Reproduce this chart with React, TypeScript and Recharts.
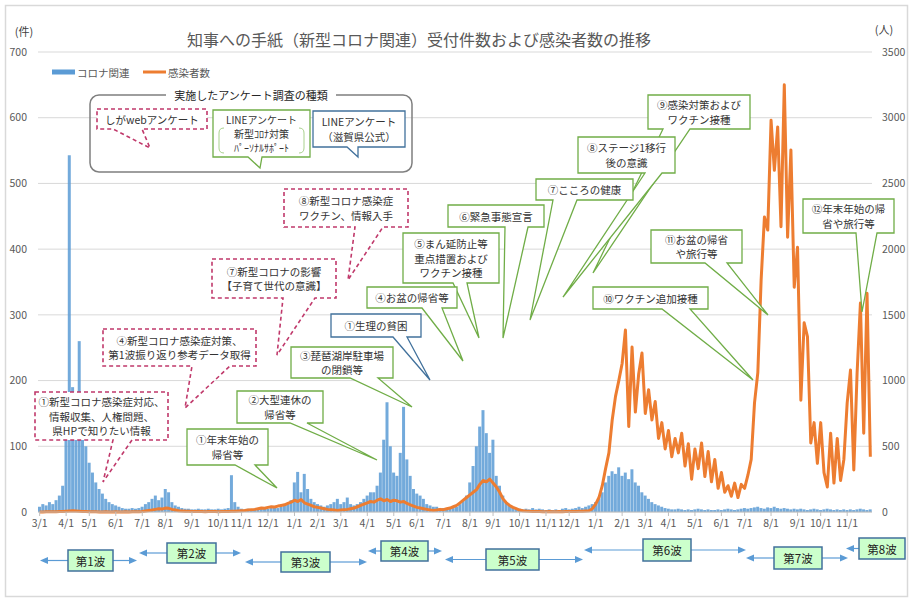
import React from 'react';
import { ComposedChart, Bar, Line, XAxis, YAxis, CartesianGrid } from 'recharts';

// ---- data (one sample every 4 days from 2020-03-01) ----
const STEP_DAYS = 4;

// 知事への手紙（コロナ関連）受付件数
const letters = [
  8, 12, 10, 15, 12, 18, 25, 40, 110, 543,
  190, 140, 260, 130, 100, 75, 60, 45, 35, 28,
  20, 15, 12, 10, 8, 6, 5, 5, 6, 5,
  6, 8, 12, 15, 20, 25, 18, 22, 35, 30,
  15, 10, 8, 6, 5, 5, 4, 4, 5, 4,
  4, 5, 4, 4, 5, 4, 5, 6, 56, 15,
  8, 5, 4, 5, 4, 5, 6, 5, 6, 5,
  6, 8, 6, 8, 10, 12, 18, 45, 61, 30,
  58, 35, 20, 15, 12, 10, 8, 10, 12, 15,
  20, 12, 15, 22, 12, 10, 12, 15, 20, 25,
  30, 30, 40, 60, 110, 167, 100, 60, 55, 90,
  160, 80, 55, 35, 28, 25, 20, 12, 10, 8,
  8, 6, 6, 5, 6, 6, 8, 12, 18, 25,
  45, 70, 100, 130, 155, 120, 90, 110, 55, 40,
  25, 15, 10, 8, 6, 5, 4, 5, 4, 6,
  4, 5, 4, 3, 4, 3, 4, 3, 5, 6,
  4, 5, 6, 8, 6, 8, 10, 12, 15, 20,
  30, 45, 55, 62, 58, 68, 55, 60, 50, 65,
  45, 40, 30, 25, 20, 15, 12, 10, 8, 6,
  5, 4, 4, 5, 4, 3, 4, 3, 4, 5,
  4, 3, 4, 3, 3, 4, 3, 4, 5, 4,
  3, 4, 5, 6, 5, 6, 7, 8, 6, 5,
  7, 6, 8, 6, 5, 6, 5, 4, 5, 4,
  5, 4, 3, 4, 5, 4, 3, 4, 5, 4,
  3, 4, 3, 4, 3, 4, 3, 4, 5, 4,
  3, 4,
];

// 感染者数
const cases = [
  0, 0, 1, 1, 2, 2, 3, 4, 6, 8,
  10, 8, 6, 4, 3, 2, 1, 1, 0, 0,
  1, 0, 0, 1, 0, 0, 1, 0, 1, 1,
  2, 4, 8, 12, 15, 20, 25, 22, 30, 28,
  20, 15, 10, 8, 6, 5, 4, 3, 4, 3,
  2, 3, 4, 3, 2, 3, 4, 3, 5, 6,
  8, 10, 12, 15, 18, 20, 25, 30, 28, 35,
  40, 38, 45, 50, 55, 65, 75, 90, 80, 95,
  70, 60, 50, 40, 35, 30, 25, 20, 18, 15,
  12, 15, 18, 20, 25, 30, 40, 50, 60, 70,
  80, 75, 90, 100, 85, 95, 80, 90, 85, 75,
  80, 65, 55, 45, 35, 30, 25, 20, 15, 12,
  15, 20, 18, 25, 30, 40, 50, 70, 90, 110,
  130, 150, 170, 210, 240, 230, 250, 220, 190, 150,
  100, 70, 50, 35, 25, 15, 10, 7, 5, 4,
  3, 3, 2, 2, 3, 2, 2, 3, 2, 3,
  4, 3, 4, 5, 5, 8, 10, 25, 60, 110,
  200, 330, 450, 700, 880, 1000, 1130, 1385, 650, 1255,
  760, 1050, 1210, 750, 930, 700, 840, 560, 680, 480,
  620, 420, 560, 450, 600, 350, 520, 250, 480, 330,
  525, 270, 460, 230, 400, 180, 300, 150, 200, 120,
  220, 110, 210, 180, 280, 400, 830, 1060, 1765, 2245,
  2145, 2980, 2600, 2930, 2170, 3250, 2090, 2755, 1710, 2015,
  850, 1440, 1335, 525, 680, 370, 680, 300, 190, 600,
  220, 560, 240, 400, 830, 1080, 320, 1060, 1590, 600,
  1665, 420,
];

const monthStartDays = [0, 31, 61, 92, 122, 153, 184, 214, 245, 275, 306, 337, 365, 396, 426, 457, 487, 518, 549, 579, 610, 640, 671, 702, 730, 761, 791, 822, 852, 883, 914, 944, 975];
const monthLabels = ['3/1', '4/1', '5/1', '6/1', '7/1', '8/1', '9/1', '10/1', '11/1', '12/1', '1/1', '2/1', '3/1', '4/1', '5/1', '6/1', '7/1', '8/1', '9/1', '10/1', '11/1', '12/1', '1/1', '2/1', '3/1', '4/1', '5/1', '6/1', '7/1', '8/1', '9/1', '10/1', '11/1'];
const leftTicks = [0, 100, 200, 300, 400, 500, 600, 700];
const rightTicks = [0, 500, 1000, 1500, 2000, 2500, 3000, 3500];

const seriesNames = { letters: 'コロナ関連', cases: '感染者数' };
const title = '知事への手紙（新型コロナ関連）受付件数および感染者数の推移';

const data = letters.map((v, i) => ({ d: i * STEP_DAYS, letters: v, cases: cases[i] }));
const tickDays = monthStartDays.map((d) => Math.round(d / STEP_DAYS) * STEP_DAYS);
const tickLabelMap = new Map(tickDays.map((t, i) => [t, monthLabels[i]]));

// ---- annotations (layout) ----
const FONT = "'Noto Sans CJK JP', 'Noto Sans', sans-serif";
const BLUE = '#5B9BD5';
const ORANGE = '#ED7D31';
const GREEN = '#70AD47';
const STEEL = '#41719C';
const CRIMSON = '#C0396B';

type CalloutDef = { x: number; y: number; w: number; h: number; b: [number, number]; tip: [number, number]; kind: 'dash' | 'green' | 'blue'; lines: string[]; fs?: number; lh?: number };

const callouts: CalloutDef[] = [
  { x: 97, y: 109, w: 110, h: 20, b: [113, 142], tip: [150, 148], kind: 'dash', lines: ['しがwebアンケート'] },
  { x: 213, y: 110, w: 97, h: 47, b: [248, 262], tip: [260, 168], kind: 'green', lines: ['LINEアンケート', '新型ｺﾛﾅ対策', 'ﾊﾟｰｿﾅﾙｻﾎﾟｰﾄ'], fs: 10, lh: 14 },
  { x: 313, y: 111, w: 92, h: 36, b: [347, 358], tip: [358, 157], kind: 'blue', lines: ['LINEアンケート', '（滋賀県公式）'] },
  { x: 648, y: 95, w: 102, h: 34, b: [663, 690], tip: [593, 273], kind: 'green', lines: ['⑨感染対策および', 'ワクチン接種'] },
  { x: 578, y: 137, w: 97, h: 36, b: [645, 662], tip: [563, 297], kind: 'green', lines: ['⑧ステージ1移行', '後の意識'] },
  { x: 536, y: 179, w: 97, h: 21, b: [553, 577], tip: [530, 320], kind: 'green', lines: ['⑦こころの健康'] },
  { x: 448, y: 205, w: 96, h: 22, b: [505, 528], tip: [503, 338], kind: 'green', lines: ['⑥緊急事態宣言'] },
  { x: 403, y: 233, w: 96, h: 50, b: [453, 467], tip: [479, 338], kind: 'green', lines: ['⑤まん延防止等', '重点措置および', 'ワクチン接種'] },
  { x: 367, y: 287, w: 90, h: 21, b: [422, 442], tip: [463, 361], kind: 'green', lines: ['④お盆の帰省等'] },
  { x: 331, y: 314, w: 90, h: 23, b: [393, 407], tip: [430, 380], kind: 'blue', lines: ['①生理の貧困'] },
  { x: 291, y: 347, w: 102, h: 31, b: [350, 378], tip: [412, 407], kind: 'green', lines: ['③琵琶湖岸駐車場', 'の閉鎖等'] },
  { x: 237, y: 391, w: 86, h: 32, b: [290, 307], tip: [377, 460], kind: 'green', lines: ['②大型連休の', '帰省等'] },
  { x: 187, y: 429, w: 81, h: 36, b: [235, 255], tip: [277, 488], kind: 'green', lines: ['①年末年始の', '帰省等'] },
  { x: 284, y: 189, w: 124, h: 38, b: [355, 383], tip: [348, 280], kind: 'dash', lines: ['⑧新型コロナ感染症', 'ワクチン、情報入手'] },
  { x: 212, y: 259, w: 124, h: 39, b: [283, 315], tip: [277, 355], kind: 'dash', lines: ['⑦新型コロナの影響', '【子育て世代の意識】'] },
  { x: 103, y: 329, w: 153, h: 37, b: [192, 230], tip: [185, 408], kind: 'dash', lines: ['④新型コロナ感染症対策、', '第1波振り返り参考データ取得'] },
  { x: 35, y: 392, w: 133, h: 48, b: [113, 132], tip: [103, 482], kind: 'dash', lines: ['①新型コロナ感染症対応、', '情報収集、人権問題、', '県HPで知りたい情報'] },
  { x: 593, y: 287, w: 115, h: 22, b: [662, 690], tip: [753, 380], kind: 'green', lines: ['⑩ワクチン追加接種'] },
  { x: 651, y: 230, w: 91, h: 33, b: [705, 727], tip: [768, 315], kind: 'green', lines: ['⑪お盆の帰省', 'や旅行等'] },
  { x: 803, y: 199, w: 91, h: 34, b: [856, 877], tip: [862, 312], kind: 'green', lines: ['⑫年末年始の帰', '省や旅行等'] },
];

type WaveDef = { label: string; x: number; y: number; w: number; h: number; left: number | null; right: number | null };
const waves: WaveDef[] = [
  { label: '第1波', x: 68, y: 550, w: 45, h: 21, left: 40, right: 137 },
  { label: '第2波', x: 167, y: 543, w: 49, h: 20, left: 139, right: 241 },
  { label: '第3波', x: 281, y: 552, w: 49, h: 20, left: 245, right: 367 },
  { label: '第4波', x: 381, y: 541, w: 47, h: 20, left: 368, right: 442 },
  { label: '第5波', x: 486, y: 549, w: 53, h: 21, left: 445, right: 583 },
  { label: '第6波', x: 643, y: 539, w: 48, h: 22, left: 584, right: 746 },
  { label: '第7波', x: 774, y: 547, w: 48, h: 22, left: 746, right: 848 },
  { label: '第8波', x: 859, y: 538, w: 46, h: 21, left: 846, right: null },
];

function Callout({ c }: { c: CalloutDef }) {
  const { x, y, w, h, b, tip, kind, lines } = c;
  const fs = c.fs ?? 10.5;
  const lh = c.lh ?? 14.5;
  const color = kind === 'dash' ? CRIMSON : kind === 'blue' ? STEEL : GREEN;
  const path = `M${x},${y}H${x + w}V${y + h}H${b[1]}L${tip[0]},${tip[1]}L${b[0]},${y + h}H${x}Z`;
  const n = lines.length;
  return (
    <g>
      <path d={path} fill="#fff" stroke={color} strokeWidth={kind === 'dash' ? 1.6 : 1.3} strokeDasharray={kind === 'dash' ? '4 3' : undefined} strokeLinejoin="miter" />
      {lines.map((t, i) => (
        <text key={i} x={x + w / 2} y={y + h / 2 + (i - (n - 1) / 2) * lh} textAnchor="middle" dominantBaseline="central" fontSize={fs} fill="#333">
          {t}
        </text>
      ))}
    </g>
  );
}

function Wave({ wv }: { wv: WaveDef }) {
  const cy = wv.y + wv.h / 2;
  return (
    <g>
      {wv.left !== null && (
        <g>
          <line x1={wv.left + 6} y1={cy} x2={wv.x} y2={cy} stroke={BLUE} strokeWidth={1.2} />
          <polygon points={`${wv.left},${cy} ${wv.left + 8},${cy - 3.5} ${wv.left + 8},${cy + 3.5}`} fill={BLUE} />
        </g>
      )}
      {wv.right !== null && (
        <g>
          <line x1={wv.x + wv.w} y1={cy} x2={wv.right - 6} y2={cy} stroke={BLUE} strokeWidth={1.2} />
          <polygon points={`${wv.right},${cy} ${wv.right - 8},${cy - 3.5} ${wv.right - 8},${cy + 3.5}`} fill={BLUE} />
        </g>
      )}
      <rect x={wv.x} y={wv.y} width={wv.w} height={wv.h} fill="#CCFFCC" stroke={STEEL} strokeWidth={1.5} />
      <text x={wv.x + wv.w / 2} y={cy} textAnchor="middle" dominantBaseline="central" fontSize={11.5} fill="#222">
        {wv.label}
      </text>
    </g>
  );
}

export default function App() {
  return (
    <div style={{ position: 'absolute', left: 0, top: 0, width: 913, height: 603, background: '#fff', fontFamily: FONT }}>
      <ComposedChart width={913} height={603} data={data} margin={{ top: 52, right: 0, bottom: 61, left: 8 }} barCategoryGap={0} barGap={0}>
        <CartesianGrid yAxisId="left" horizontal vertical={false} stroke="#D9D9D9" />
        <XAxis
          dataKey="d"
          type="category"
          ticks={tickDays}
          interval={0}
          tickFormatter={(v) => tickLabelMap.get(v) ?? ''}
          height={30}
          axisLine={{ stroke: '#BFBFBF' }}
          tickLine={{ stroke: '#BFBFBF' }}
          tickSize={4}
          tickMargin={4}
          tick={{ fontSize: 10.5, fill: '#595959', fontFamily: FONT }}
        />
        <YAxis
          yAxisId="left"
          domain={[0, 700]}
          ticks={leftTicks}
          width={30}
          axisLine={false}
          tickLine={false}
          tickSize={0}
          tickMargin={11}
          tick={{ fontSize: 10.5, fill: '#595959', fontFamily: FONT }}
        />
        <YAxis
          yAxisId="right"
          orientation="right"
          domain={[0, 3500]}
          ticks={rightTicks}
          width={41}
          axisLine={false}
          tickLine={false}
          tickSize={0}
          tickMargin={10}
          tick={{ fontSize: 10.5, fill: '#595959', fontFamily: FONT, textAnchor: 'start' }}
        />
        <Bar yAxisId="left" dataKey="letters" name={seriesNames.letters} fill={BLUE} fillOpacity={0.85} isAnimationActive={false} />
        <Line yAxisId="right" dataKey="cases" name={seriesNames.cases} type="linear" stroke={ORANGE} strokeWidth={3} dot={false} strokeLinejoin="round" isAnimationActive={false} />
      </ComposedChart>
      <svg width={913} height={603} style={{ position: 'absolute', left: 0, top: 0, pointerEvents: 'none', fontFamily: FONT }}>
        <rect x={5.5} y={5.5} width={902} height={591} fill="none" stroke="#D9D9D9" strokeWidth={1.5} />
        <text x={419} y={39} textAnchor="middle" dominantBaseline="central" fontSize={16} fill="#595959">{title}</text>
        <text x={24} y={31} textAnchor="middle" dominantBaseline="central" fontSize={11} fill="#404040">(件)</text>
        <text x={884} y={29} textAnchor="middle" dominantBaseline="central" fontSize={11} fill="#404040">(人)</text>
        {/* legend */}
        <rect x={52} y={69.5} width={23} height={5} fill={BLUE} />
        <text x={77} y={72} dominantBaseline="central" fontSize={10.5} fill="#595959">{seriesNames.letters}</text>
        <line x1={143} y1={72} x2={166} y2={72} stroke={ORANGE} strokeWidth={3} />
        <text x={168} y={72} dominantBaseline="central" fontSize={10.5} fill="#595959">{seriesNames.cases}</text>
        {/* survey type group */}
        <rect x={90} y={95} width={322} height={77} rx={9} fill="none" stroke="#7F7F7F" strokeWidth={1.5} />
        <rect x={166} y={88} width={170} height={14} fill="#fff" />
        <text x={251} y={95} textAnchor="middle" dominantBaseline="central" fontSize={11} fill="#262626">実施したアンケート調査の種類</text>
        {callouts.map((c, i) => (
          <Callout key={i} c={c} />
        ))}
        <path d="M224,128 Q219,128 219,133 V148 Q219,153 224,153" fill="none" stroke="#A9D18E" strokeWidth={1} />
        <path d="M299,128 Q304,128 304,133 V148 Q304,153 299,153" fill="none" stroke="#A9D18E" strokeWidth={1} />
        {waves.map((wv, i) => (
          <Wave key={i} wv={wv} />
        ))}
      </svg>
    </div>
  );
}
